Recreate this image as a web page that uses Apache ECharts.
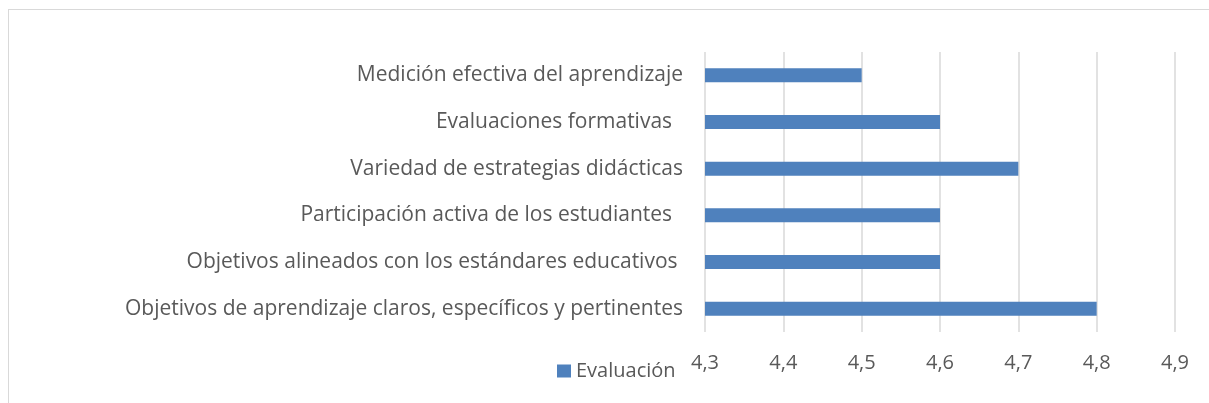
<!DOCTYPE html>
<html>
<head>
<meta charset="utf-8">
<script src="https://cdn.jsdelivr.net/npm/echarts@6/dist/echarts.min.js"></script>
<style>
  html, body { margin: 0; padding: 0; background: #fff; }
  #frame { position: absolute; left: 8px; top: 9px; width: 1210px; height: 400px; border: 1px solid #d9d9d9; box-sizing: border-box; }
  #chart { position: absolute; left: 0; top: 0; width: 1209px; height: 403px; }
</style>
</head>
<body>
<div id="frame"></div>
<div id="chart"></div>
<script>
// categories from bottom to top (ECharts category axis starts at the bottom)
const categories = [
  'Objetivos de aprendizaje claros, específicos y pertinentes',
  'Objetivos alineados con los estándares educativos ',
  'Participación activa de los estudiantes  ',
  'Variedad de estrategias didácticas',
  'Evaluaciones formativas  ',
  'Medición efectiva del aprendizaje'
]
const evaluacion = [4.8, 4.6, 4.6, 4.7, 4.6, 4.5]
const seriesName = 'Evaluación'

const chart = echarts.init(document.getElementById('chart'))
const textColor = '#595959'
const font = 'Open Sans'

chart.setOption({
  animation: false,
  backgroundColor: 'transparent',
  textStyle: { fontFamily: font },
  legend: {
    left: 552,
    top: 356,
    itemWidth: 14,
    itemHeight: 13,
    icon: 'rect',
    textStyle: { color: textColor, fontSize: 20, fontFamily: font },
    data: [seriesName]
  },
  grid: { left: 705, right: 34, top: 52, height: 280, containLabel: false },
  xAxis: {
    type: 'value',
    min: 4.3,
    max: 4.9,
    interval: 0.1,
    axisLine: { show: false },
    axisTick: { show: false },
    axisLabel: {
      color: textColor,
      fontSize: 20,
      fontFamily: font,
      margin: 21,
      formatter: (v) => v.toFixed(1).replace('.', ',')
    },
    splitLine: { lineStyle: { color: '#d9d9d9', width: 1.5 } }
  },
  yAxis: {
    type: 'category',
    data: categories,
    axisLine: { show: false },
    axisTick: { show: false },
    axisLabel: { color: textColor, fontSize: 21, fontFamily: font, margin: 22 }
  },
  series: [{
    name: seriesName,
    type: 'bar',
    data: evaluacion,
    barWidth: 14,
    itemStyle: { color: '#4f81bd' }
  }]
})
</script>
</body>
</html>
